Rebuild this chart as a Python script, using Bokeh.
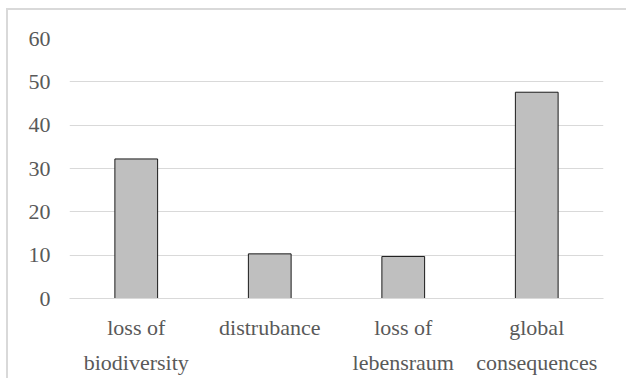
from bokeh.plotting import figure
from bokeh.models import Range1d, FixedTicker, LinearAxis
from bokeh.embed import file_html
from bokeh.resources import INLINE

# Survey answers per category
categories = ["loss of\nbiodiversity", "distrubance", "loss of\nlebensraum", "global\nconsequences"]
values = [32.2, 10.3, 9.7, 47.6]
y_ticks = [0, 10, 20, 30, 40, 50, 60]

FONT = "Times New Roman"
TEXT = "#595959"
GRID = "#d9d9d9"

xs = list(range(len(categories)))
first_lines = {i: c.split("\n")[0] for i, c in zip(xs, categories)}
second_lines = {i: (c.split("\n") + [""])[1] for i, c in zip(xs, categories)}

p = figure(
    x_range=Range1d(-0.5, len(categories) - 0.5),
    y_range=Range1d(0, 60),
    width=620,
    height=370,
    output_backend="svg",
    toolbar_location=None,
    min_border_left=61,
    min_border_right=25,
    min_border_top=28,
    min_border_bottom=82,
)
p.margin = (8, 0, 0, 6)
p.styles = {"border-top": f"2px solid {GRID}", "border-left": f"2px solid {GRID}"}
p.outline_line_color = None
p.background_fill_color = "white"
p.border_fill_color = "white"

p.vbar(x=xs, top=values, width=0.32, fill_color="#bfbfbf",
       line_color="#1a1a1a", line_width=1)

p.xgrid.grid_line_color = None
p.ygrid.grid_line_color = GRID
p.ygrid.grid_line_width = 1
p.yaxis.ticker = FixedTicker(ticks=y_ticks)

# second text line of each category name sits on its own axis underneath
x2 = LinearAxis()
p.add_layout(x2, "below")

for ax in (p.xaxis[0], x2, p.yaxis[0]):
    ax.major_label_text_font = FONT
    ax.major_label_text_font_size = "22px"
    ax.major_label_text_color = TEXT
    ax.major_tick_line_color = None
    ax.minor_tick_line_color = None

p.xaxis[0].ticker = FixedTicker(ticks=xs)
p.xaxis[0].major_label_overrides = first_lines
p.xaxis[0].axis_line_color = GRID
p.xaxis[0].major_label_standoff = 10

x2.ticker = FixedTicker(ticks=xs)
x2.major_label_overrides = second_lines
x2.axis_line_color = None
x2.major_label_standoff = 1

p.yaxis.axis_line_color = None
p.yaxis.major_label_standoff = 13

open("out.html", "w").write(file_html(p, INLINE))
